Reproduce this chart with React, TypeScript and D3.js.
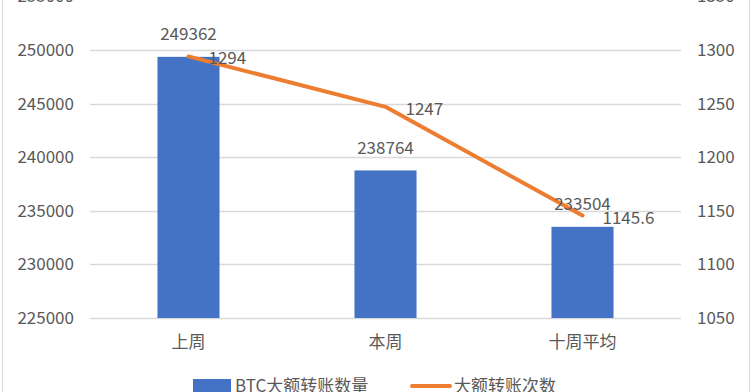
import React from 'react';
import * as d3 from 'd3';

const categories = ['上周', '本周', '十周平均'];
const amountValues = [249362, 238764, 233504];
const countValues = [1294, 1247, 1145.6];
const leftTicks = [225000, 230000, 235000, 240000, 245000, 250000, 255000];
const rightTicks = [1050, 1100, 1150, 1200, 1250, 1300, 1350];
const seriesNames = ['BTC大额转账数量', '大额转账次数'];

const W = 752, H = 392;
const FONT = '"Noto Sans CJK SC", "Noto Sans", sans-serif';
const TEXT = '#595959';

export default function App() {
  const x = d3.scaleBand<string>().domain(categories).range([90, 681]).paddingInner(0.685).paddingOuter(0.3425);
  const yL = d3.scaleLinear().domain([225000, 255000]).range([318, -3.6]);
  const yR = d3.scaleLinear().domain([1050, 1350]).range([318, -3.6]);
  const cx = (c: string) => (x(c) as number) + x.bandwidth() / 2;
  const line = d3.line<number>().x((_, i) => cx(categories[i])).y(d => yR(d));

  return (
    <svg width={W} height={H} style={{ position: 'absolute', left: 0, top: 0, background: '#fff' }} fontFamily={FONT}>
      <rect x={0} y={0} width={W} height={H} fill="#fff" />
      <rect x={2.5} y={-10} width={747} height={H + 20} fill="none" stroke="#d9d9d9" strokeWidth={1} />
      {leftTicks.map(t => (
        <line key={t} x1={90} x2={681} y1={Math.round(yL(t)) + 0.5} y2={Math.round(yL(t)) + 0.5} stroke="#d9d9d9" strokeWidth={1.3} />
      ))}
      {leftTicks.map(t => (
        <text key={t} x={74} y={yL(t) + 6} textAnchor="end" fontSize={17} fill={TEXT}>{t}</text>
      ))}
      {rightTicks.map(t => (
        <text key={t} x={697} y={yR(t) + 6} textAnchor="start" fontSize={17} fill={TEXT}>{t}</text>
      ))}
      {categories.map((c, i) => (
        <rect key={c} x={x(c)} y={yL(amountValues[i])} width={x.bandwidth()} height={318 - yL(amountValues[i])} fill="#4472C4" />
      ))}
      <path d={line(countValues) || ''} fill="none" stroke="#ED7D31" strokeWidth={4} strokeLinecap="round" strokeLinejoin="round" />
      {categories.map((c, i) => (
        <text key={c} x={cx(c)} y={yL(amountValues[i]) - 16.5} textAnchor="middle" fontSize={17} fill={TEXT}>{amountValues[i]}</text>
      ))}
      {categories.map((c, i) => (
        <text key={c} x={cx(c) + 20} y={yR(countValues[i]) + 8} textAnchor="start" fontSize={17} fill={TEXT}>{countValues[i]}</text>
      ))}
      {categories.map(c => (
        <text key={c} x={cx(c)} y={348} textAnchor="middle" fontSize={17} fill={TEXT}>{c}</text>
      ))}
      <rect x={193} y={379} width={38} height={14} fill="#4472C4" />
      <text x={235} y={392} fontSize={17} fill={TEXT}>{seriesNames[0]}</text>
      <line x1={412} x2={450} y1={386} y2={386} stroke="#ED7D31" strokeWidth={4} strokeLinecap="round" />
      <text x={454} y={392} fontSize={17} fill={TEXT}>{seriesNames[1]}</text>
    </svg>
  );
}
